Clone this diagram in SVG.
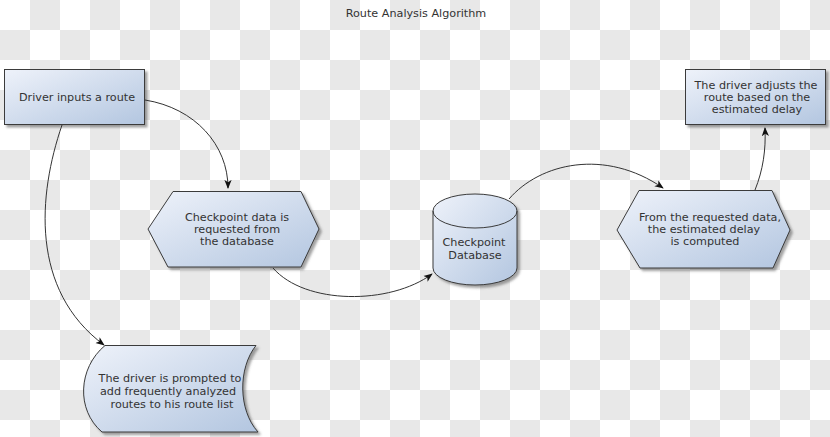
<svg xmlns="http://www.w3.org/2000/svg" width="830" height="437" viewBox="0 0 830 437">
<defs>
<pattern id="chk" width="60" height="60" patternUnits="userSpaceOnUse">
<rect width="60" height="60" fill="#ffffff"/>
<rect x="30" y="0" width="30" height="30" fill="#e8e8e8"/>
<rect x="0" y="30" width="30" height="30" fill="#e8e8e8"/>
</pattern>
<linearGradient id="fillg" x1="0" y1="0" x2="1" y2="1">
<stop offset="0" stop-color="#eef2fa"/>
<stop offset="1" stop-color="#b3c6e0"/>
</linearGradient>
<filter id="sh" x="-10%" y="-10%" width="130%" height="130%">
<feDropShadow dx="2.5" dy="2.5" stdDeviation="1.2" flood-color="#555" flood-opacity="0.55"/>
</filter>
<marker id="arr" viewBox="0 0 10 10" refX="9" refY="5" markerWidth="9" markerHeight="9" markerUnits="userSpaceOnUse" orient="auto">
<path d="M0,1 L10,5 L0,9 L2.5,5 Z" fill="#111"/>
</marker>
</defs>
<style>
.shape{fill:url(#fillg);stroke:#3a3a3a;stroke-width:1;filter:url(#sh)}
.lbl{font-family:"DejaVu Sans",sans-serif;font-size:11.2px;fill:#333;text-anchor:middle}
.conn{fill:none;stroke:#333;stroke-width:1;marker-end:url(#arr)}
</style>
<rect width="830" height="437" fill="url(#chk)"/>
<text class="lbl" x="416" y="17">Route Analysis Algorithm</text>

<g id="driver-inputs">
<rect class="shape" x="4.5" y="69.5" width="140" height="55"/>
<text class="lbl" x="77" y="101">Driver inputs a route</text>
</g>

<g id="checkpoint-request">
<polygon class="shape" points="148,229 173,191.5 301,191.5 319,229 301,267 168,267"/>
<text class="lbl" x="237" y="221">Checkpoint data is</text>
<text class="lbl" x="237" y="233">requested from</text>
<text class="lbl" x="237" y="245">the database</text>
</g>

<g id="checkpoint-db">
<path class="shape" d="M433,211 L433,268 A42,17 0 0 0 517,268 L517,211 A42,17 0 0 0 433,211 Z"/>
<path d="M433,211 A42,17 0 0 0 517,211" fill="none" stroke="#3a3a3a" stroke-width="1"/>
<text class="lbl" x="474" y="246">Checkpoint</text>
<text class="lbl" x="475" y="259">Database</text>
</g>

<g id="estimate-delay">
<polygon class="shape" points="617,230 639,190.5 772,190.5 790,230 773,268 640,268"/>
<text class="lbl" x="710" y="221">From the requested data,</text>
<text class="lbl" x="704" y="233">the estimated delay</text>
<text class="lbl" x="705" y="245">is computed</text>
</g>

<g id="driver-adjusts">
<rect class="shape" x="685.5" y="69.5" width="140" height="55"/>
<text class="lbl" x="756" y="89">The driver adjusts the</text>
<text class="lbl" x="757" y="101">route based on the</text>
<text class="lbl" x="757" y="113">estimated delay</text>
</g>

<g id="driver-prompted">
<path class="shape" d="M105,345.5 L256,345.5 C 238,368 238,410 258,432 L102,432 C 76,410 78,368 105,345.5 Z"/>
<text class="lbl" x="170" y="382">The driver is prompted to</text>
<text class="lbl" x="168" y="395">add frequently analyzed</text>
<text class="lbl" x="172" y="408">routes to his route list</text>
</g>

<g id="connectors">
<path class="conn" d="M145,100 C 195,108 228,145 228,188"/>
<path class="conn" d="M62,125 C 38,195 30,290 104,345"/>
<path class="conn" d="M273,268 C 305,305 390,305 432,274"/>
<path class="conn" d="M509,199 C 540,163 605,148 663,188"/>
<path class="conn" d="M755,190 C 763,170 766,150 765,128"/>
</g>
</svg>
